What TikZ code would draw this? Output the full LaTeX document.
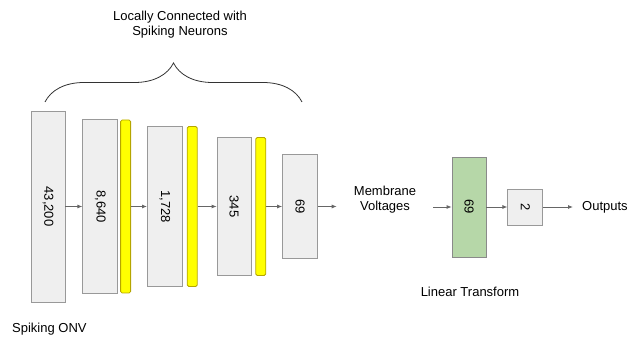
\documentclass[tikz,border=0pt]{standalone}
\usepackage{fontspec}
\setmainfont{Liberation Sans}
\usepackage{graphicx}
\usepackage{tikz}
\usetikzlibrary{arrows.meta,positioning,decorations.pathreplacing}
\definecolor{boxgray}{HTML}{EFEFEF}
\definecolor{edgegray}{HTML}{999999}
\definecolor{spikey}{HTML}{FFFF00}
\definecolor{spikeedge}{HTML}{B5A500}
\definecolor{lingreen}{HTML}{B6D7A8}
\definecolor{arrgray}{HTML}{666666}

\begin{document}
\begin{tikzpicture}[x=1pt,y=1pt,
  font=\fontsize{13}{15}\selectfont,
  layer/.style={rectangle,draw=edgegray,fill=boxgray,line width=0.8pt,inner sep=0pt,minimum width=35pt},
  spike/.style={rectangle,rounded corners=1.5pt,draw=spikeedge,fill=spikey,line width=0.8pt,inner sep=0pt,minimum width=10pt},
  txt/.style={align=center,inner sep=3pt},
  arr/.style={-{Latex[length=5pt,width=4pt]},line width=0.8pt,arrgray}]
\useasboundingbox (0,0) rectangle (627,337);
\node[layer,minimum width=34pt,minimum height=191pt] (a) at (48,130.5) {\rotatebox{-90}{43,200}};
\node[layer,minimum height=174pt,right=17pt of a] (b) {\rotatebox{-90}{8,640}};
\node[spike,minimum height=173pt,right=2pt of b] (s1) {};
\node[layer,minimum height=160pt,right=16pt of s1] (c) {\rotatebox{-90}{1,728}};
\node[spike,minimum height=160pt,right=4pt of c] (s2) {};
\node[layer,minimum width=34pt,minimum height=138pt,right=19pt of s2] (d) {\rotatebox{-90}{345}};
\node[spike,minimum height=138pt,right=4pt of d] (s3) {};
\node[layer,minimum height=104pt,right=16pt of s3] (e) {\rotatebox{-90}{69}};
\node[txt] (mv) at (385,137) {Membrane\\Voltages};
\node[layer,fill=lingreen,draw=edgegray!90!black,minimum width=34pt,minimum height=100pt] (lin) at (469,130) {\rotatebox{-90}{69}};
\node[layer,minimum height=36pt,right=21pt of lin] (o2) {\rotatebox{-90}{2}};
\node[txt,anchor=west,inner sep=0pt] (out) at (582,130) {Outputs};
\node[txt] (title) at (180,312) {Locally Connected with\\Spiking Neurons};
\node[txt] (lt) at (470,45) {Linear Transform};
\node[txt,anchor=west,inner sep=0pt] (onv) at (12,8) {Spiking ONV};
% connections
\foreach \x/\y in {a/b,s1/c,s2/d,s3/e,lin/o2} \draw[arr] (\x) -- (\y);
\draw[arr,shorten >=14pt] (e) -- (e -| mv.west);
\draw[arr,shorten <=14pt] (lin -| mv.east) -- (lin);
\draw[arr,shorten >=9pt] (o2) -- (out);
% brace over the spiking layers
\draw[line width=0.8pt,black!80,decorate,decoration={brace,amplitude=39pt,aspect=0.5}] (45,235) -- (302,235);
\end{tikzpicture}
\end{document}
